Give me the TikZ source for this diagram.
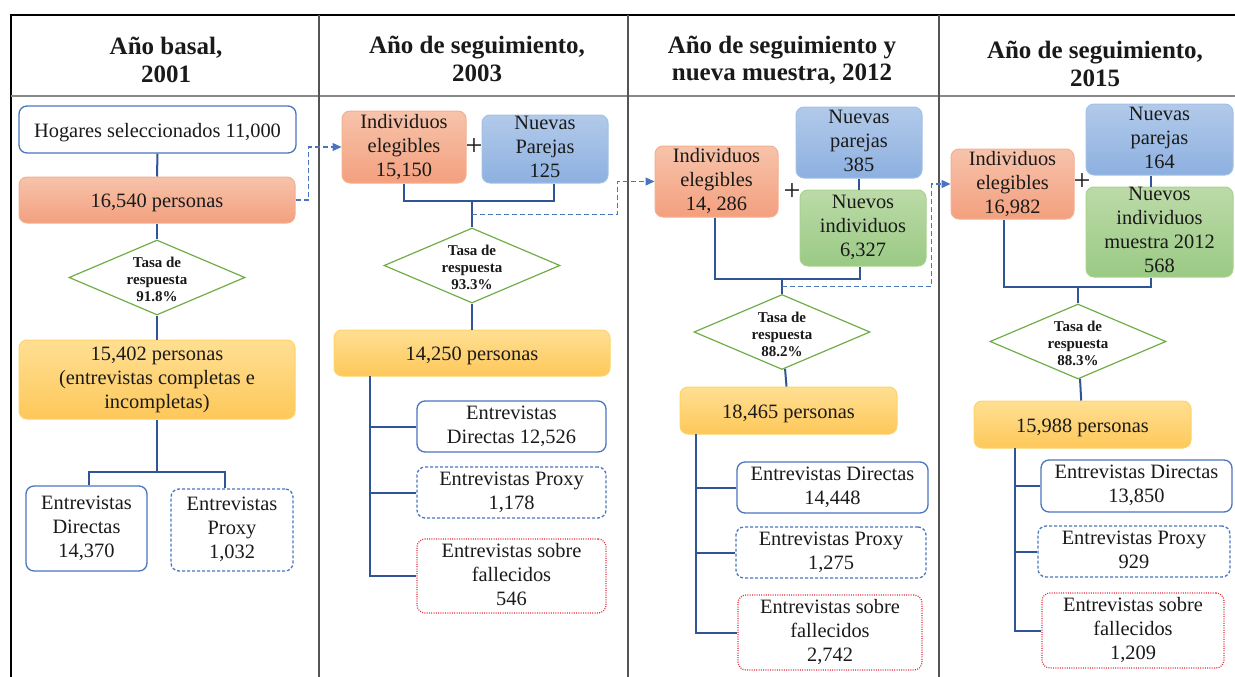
\documentclass[tikz,border=0pt]{standalone}
\usepackage{fontspec}
\setmainfont{Liberation Serif}
\usetikzlibrary{shapes.geometric,arrows.meta,calc}

\definecolor{txt}{HTML}{1A1A1A}
\definecolor{linkblue}{HTML}{2F5597}
\definecolor{boxblue}{HTML}{4A74C0}
\definecolor{deadred}{HTML}{E0303A}
\definecolor{salmontop}{HTML}{F7C3AB}
\definecolor{salmonbot}{HTML}{F3A07E}
\definecolor{salmonedge}{HTML}{F4B08E}
\definecolor{bluetop}{HTML}{B2CAEA}
\definecolor{bluebot}{HTML}{8DB0E0}
\definecolor{blueedge}{HTML}{A3C0E6}
\definecolor{greentop}{HTML}{BCDAA8}
\definecolor{greenbot}{HTML}{9ACA84}
\definecolor{greenedge}{HTML}{A9D18E}
\definecolor{yellowtop}{HTML}{FFDF93}
\definecolor{yellowbot}{HTML}{FEC85A}
\definecolor{yellowedge}{HTML}{FFD466}
\definecolor{diamondgreen}{HTML}{70AD47}
\definecolor{framegray}{HTML}{555555}

\begin{document}
\begin{tikzpicture}[x=1pt,y=-1pt,
  sz/.style 2 args={minimum width=#1pt,minimum height=#2pt},
  base/.style={rounded corners=8pt,align=center,inner sep=0pt,text=txt,
    font=\fontsize{20.4}{24}\selectfont,
    execute at begin node={\rule{0pt}{20pt}},
    execute at end node={\rule[-4pt]{0pt}{4pt}}},
  plainbox/.style={base,draw=boxblue,line width=1.3pt,fill=white},
  proxybox/.style={base,draw=boxblue,line width=1.3pt,dash pattern=on 3pt off 2pt},
  deadbox/.style={base,draw=deadred,line width=1.2pt,dash pattern=on 1pt off 1.3pt},
  salmonbox/.style={base,draw=salmonedge,line width=1pt,top color=salmontop,bottom color=salmonbot},
  bluebox/.style={base,draw=blueedge,line width=1pt,top color=bluetop,bottom color=bluebot},
  greenbox/.style={base,draw=greenedge,line width=1pt,top color=greentop,bottom color=greenbot},
  yellowbox/.style={base,draw=yellowedge,line width=1pt,top color=yellowtop,bottom color=yellowbot},
  rate/.style={diamond,draw=diamondgreen,line width=1.2pt,fill=white,inner sep=0pt,
    minimum width=176pt,minimum height=75pt},
  ratetext/.style={align=center,text=txt,yshift=-2pt,
    font=\bfseries\fontsize{15}{17}\selectfont},
  plus/.style={text=txt,inner sep=0pt,font=\fontsize{30}{30}\selectfont},
  head/.style={align=center,text=txt,font=\bfseries\fontsize{25}{27.5}\selectfont},
  link/.style={draw=linkblue,line width=2pt},
  dashlink/.style={draw=boxblue,line width=1.3pt,dash pattern=on 5pt off 3pt,
    -{Triangle[length=9pt,width=8pt]}},
]
\useasboundingbox (0,0) rectangle (1235,677);

% table frame
\draw[black,line width=1.5pt] (11,677) -- (11,15) -- (1235,15);
\draw[framegray!70,line width=1.2pt] (11,96) -- (1235,96);
\foreach \x in {319,628,939}
  \draw[framegray,line width=1.6pt] (\x,15) -- (\x,677);

% column headings
\node[head] (h1) at (166,60) {Año basal,\\2001};
\node[head] (h2) at (477,59) {Año de seguimiento,\\2003};
\node[head] (h3) at (782,60) {Año de seguimiento y\\nueva muestra, 2012};
\node[head] (h4) at (1095,64) {Año de seguimiento,\\2015};

% ---------- 2001 ----------
\node[plainbox,sz={277}{47}] (hog) at (157.5,129.5) {Hogares seleccionados 11,000};
\node[salmonbox,sz={276}{46}] (p1) at (157,200) {16,540 personas};
\node[rate,label={[ratetext]center:{Tasa de\\respuesta\\91.8\%}}] (d1) at (157,277.5) {};
\node[yellowbox,sz={276}{79}] (y1) at (157,379.5) {15,402 personas\\(entrevistas completas e\\incompletas)};
\node[plainbox,sz={121}{85}] (dir1) at (86.5,528.5) {Entrevistas\\Directas\\14,370};
\node[proxybox,sz={122}{82}] (prx1) at (232,530) {Entrevistas\\Proxy\\1,032};
\coordinate (j1) at (157,472);

\draw[link] (hog) -- (p1);
\draw[link] (p1) -- (d1);
\draw[link] (d1) -- (y1);
\draw[link] (y1) -- (j1);
\draw[link] ([xshift=2pt]dir1.north) |- (j1) -| ([xshift=-7pt]prx1.north);

% ---------- 2003 ----------
\node[salmonbox,sz={124}{72}] (ind2) at (404,147) {Individuos\\elegibles\\15,150};
\node[plus] (pl2) at (474,147) {+};
\node[bluebox,sz={126}{68}] (np2) at (545,149) {Nuevas\\Parejas\\125};
\node[rate,label={[ratetext]center:{Tasa de\\respuesta\\93.3\%}}] (d2) at (472,265.5) {};
\node[yellowbox,sz={276}{46}] (y2) at (472,353) {14,250 personas};
\node[plainbox,sz={189}{51}] (dir2) at (511.5,426.5) {Entrevistas\\Directas 12,526};
\node[proxybox,sz={189}{51}] (prx2) at (511.5,492.5) {Entrevistas Proxy\\1,178};
\node[deadbox,sz={189}{74}] (fal2) at (511.5,576) {Entrevistas sobre\\fallecidos\\546};
\coordinate (j2) at (472,201);
\coordinate (t2) at (370,376);

\draw[link] (ind2.south) |- (j2) -| ([xshift=9pt]np2.south);
\draw[link] (j2) -- (d2);
\draw[link] (d2) -- (y2);
\draw[link] (t2) |- (fal2.west);
\draw[link] (dir2.west) -- (dir2.west -| t2);
\draw[link] (prx2.west) -- (prx2.west -| t2);

% ---------- 2012 ----------
\node[salmonbox,sz={123}{71}] (ind3) at (716.5,181.5) {Individuos\\elegibles\\14, 286};
\node[plus] (pl3) at (792,192) {+};
\node[bluebox,sz={126}{71}] (np3) at (859,142.5) {Nuevas\\parejas\\385};
\node[greenbox,sz={126}{76}] (nv3) at (863,228) {Nuevos\\individuos\\6,327};
\node[rate,label={[ratetext]center:{Tasa de\\respuesta\\88.2\%}}] (d3) at (782,332) {};
\node[yellowbox,sz={217}{47}] (y3) at (788.5,410.5) {18,465 personas};
\node[plainbox,sz={191}{51}] (dir3) at (832.5,487.5) {Entrevistas Directas\\14,448};
\node[proxybox,sz={190}{51}] (prx3) at (831,552.5) {Entrevistas Proxy\\1,275};
\node[deadbox,sz={184}{75}] (fal3) at (830,632.5) {Entrevistas sobre\\fallecidos\\2,742};
\coordinate (j3) at (782,279);
\coordinate (t3) at (696,434);

\draw[link] (np3.south) -- (np3.south |- nv3.north);
\draw[link] ([xshift=-2pt]ind3.south) |- (j3) -| ([xshift=-3pt]nv3.south);
\draw[link] (j3) -- (d3);
\draw[link] (d3) -- (y3);
\draw[link] (t3) |- (fal3.west);
\draw[link] (dir3.west) -- (dir3.west -| t3);
\draw[link] (prx3.west) -- (prx3.west -| t3);

% ---------- 2015 ----------
\node[salmonbox,sz={123}{70}] (ind4) at (1012.5,184) {Individuos\\elegibles\\16,982};
\node[plus] (pl4) at (1082,182) {+};
\node[bluebox,sz={147}{71}] (np4) at (1159.5,139.5) {Nuevas\\parejas\\164};
\node[greenbox,sz={147}{90}] (nv4) at (1159.5,232) {Nuevos\\individuos\\muestra 2012\\568};
\node[rate,label={[ratetext]center:{Tasa de\\respuesta\\88.3\%}}] (d4) at (1078,341.5) {};
\node[yellowbox,sz={217}{47}] (y4) at (1082.5,424.5) {15,988 personas};
\node[plainbox,sz={191}{52}] (dir4) at (1136.5,486) {Entrevistas Directas\\13,850};
\node[proxybox,sz={192}{51}] (prx4) at (1134,551.5) {Entrevistas Proxy\\929};
\node[deadbox,sz={182}{75}] (fal4) at (1133,630.5) {Entrevistas sobre\\fallecidos\\1,209};
\coordinate (j4) at (1078,287);
\coordinate (t4) at (1015,448);

\draw[link] ([xshift=-9pt]np4.south) -- ([xshift=-9pt]np4.south |- nv4.north);
\draw[link] ([xshift=-9pt]ind4.south) |- (j4) -| ([xshift=-9pt]nv4.south);
\draw[link] (j4) -- (d4);
\draw[link] (d4) -- (y4);
\draw[link] (t4) |- (fal4.west);
\draw[link] (dir4.west) -- (dir4.west -| t4);
\draw[link] (prx4.west) -- (prx4.west -| t4);

% follow-up links between waves
\draw[dashlink] (p1.east) -- ++(13,0) |- (ind2.west);
\draw[dashlink] ($(j2)!0.5!(d2.north)$) -| ($(ind3.west)+(-37,0)$) -- (ind3.west);
\draw[dashlink] ($(j3)!0.5!(d3.north)$) -| ($(ind4.west)+(-19,0)$) -- (ind4.west);
\end{tikzpicture}
\end{document}
